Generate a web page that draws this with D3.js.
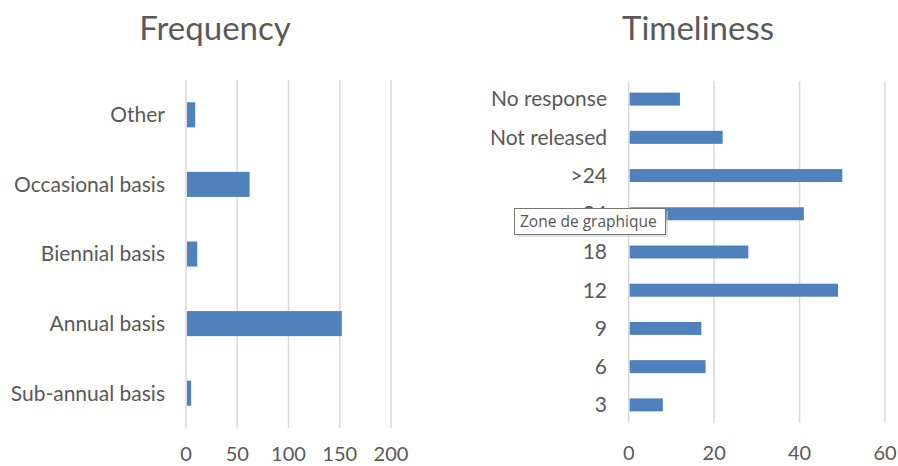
<!DOCTYPE html>
<html><head><meta charset="utf-8">
<script src="https://cdn.jsdelivr.net/npm/d3@7"></script>
<style>
html,body{margin:0;padding:0;background:#fff;}
svg{display:block;font-family:Lato,"Open Sans",sans-serif;}
</style></head>
<body><svg id="c" width="898" height="466"></svg>
<script>
const freqCategories = ["Other","Occasional basis","Biennial basis","Annual basis","Sub-annual basis"];
const freqValues = [9, 62, 11, 152, 5];
const freqTicks = [0,50,100,150,200];

const timeCategories = ["No response","Not released",">24","24","18","12","9","6","3"];
const timeValues = [12, 22, 50, 41, 28, 49, 17, 18, 8];
const timeTicks = [0,20,40,60];

const svg = d3.select("#c");
const barColor = "#4f81bd", gridColor = "#d9d9d9", textColor = "#595959";

function panel(o){
  const g = svg.append("g");
  const x = d3.scaleLinear().domain([0, o.max]).range([o.x0, o.x1]);
  const y = d3.scaleBand().domain(o.cats).range([o.y0, o.y1]).paddingInner(o.pad).paddingOuter(o.pad/2);
  g.append("text").attr("x", o.tx).attr("y", o.ty).attr("text-anchor","middle")
    .attr("font-size", 33).attr("fill", textColor).text(o.title);
  g.selectAll("line.grid").data(o.ticks).join("line").attr("class","grid")
    .attr("x1", d=>x(d)).attr("x2", d=>x(d)).attr("y1", o.gy0).attr("y2", o.gy1)
    .attr("stroke", gridColor).attr("stroke-width", 1.5);
  g.selectAll("text.tick").data(o.ticks).join("text").attr("class","tick")
    .attr("x", d=>x(d)).attr("y", o.tickY).attr("text-anchor","middle")
    .attr("font-size", 20).attr("fill", textColor).text(d=>d);
  g.selectAll("rect.bar").data(o.vals).join("rect").attr("class","bar")
    .attr("x", x(0)+1).attr("y", (d,i)=>y(o.cats[i]))
    .attr("width", d=>Math.max(0, x(d)-x(0)-1)).attr("height", y.bandwidth())
    .attr("fill", barColor);
  g.selectAll("text.cat").data(o.cats).join("text").attr("class","cat")
    .attr("x", o.labelX).attr("y", d=>y(d)+y.bandwidth()/2).attr("dy","0.35em")
    .attr("text-anchor","end").attr("font-size", 21).attr("fill", textColor).text(d=>d);
}

panel({cats:freqCategories, vals:freqValues, ticks:freqTicks, max:200,
  x0:186, x1:391, y0:80, y1:428, gy0:80, gy1:428, pad:0.64, labelX:165, tickY:461,
  title:"Frequency", tx:215, ty:40});
panel({cats:timeCategories, vals:timeValues, ticks:timeTicks, max:60,
  x0:628.7, x1:885, y0:80, y1:424, gy0:81, gy1:423, pad:0.66, labelX:607, tickY:460,
  title:"Timeliness", tx:698, ty:40});

// tooltip overlay as in the screenshot
const tip = svg.append("g").attr("transform","translate(514,208)");
tip.append("rect").attr("x",3).attr("y",3).attr("width",151).attr("height",26).attr("fill","#c8c8c8").attr("opacity",0.5);
tip.append("rect").attr("x",0.5).attr("y",0.5).attr("width",151).attr("height",26)
  .attr("fill","#fff").attr("stroke","#767676");
tip.append("text").attr("x",6).attr("y",19).attr("font-size",15.5).attr("fill","#575757")
  .attr("font-family","'Open Sans',sans-serif").text("Zone de graphique");
</script></body></html>
